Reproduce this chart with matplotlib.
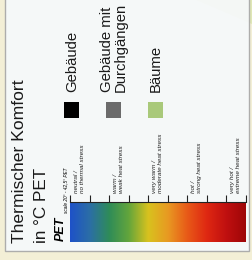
import numpy as np
import matplotlib.pyplot as plt
from matplotlib.colors import LinearSegmentedColormap
from matplotlib.patches import Rectangle, Polygon

# Legende: Thermischer Komfort in PET
title_lines   = ["Thermischer Komfort", "in °C PET"]
legend_labels = ["Gebäude", "Gebäude mit\nDurchgängen", "Bäume"]
legend_colors = ["#000000", "#6b6b6b", "#a9c97a"]

pet_ticks  = [20, 22.5, 25, 27.5, 30, 32.5, 35, 37.5, 40, 42.5]
pet_labels = ["neutral /\nno thermal stress",
              "warm /\nweak heat stress",
              "very warm /\nmoderate heat stress",
              "hot /\nstrong heat stress",
              "very hot /\nextreme heat stress"]
pet_colors = ["#1e52c8", "#2b6ea6", "#2f8c58", "#63a53c", "#d8c21e",
              "#e89a22", "#e85a18", "#df2812", "#c01010", "#9e0608"]

fam = ["Liberation Sans", "DejaVu Sans"]

fig = plt.figure(figsize=(2.52, 2.60), dpi=100)
fig.patch.set_facecolor("#f3efd6")
ax = fig.add_axes([0, 0, 1, 1])
ax.set_xlim(0, 252)
ax.set_ylim(260, 0)
ax.axis("off")

# Kartenhintergrund + Panel
ax.add_patch(Polygon([(196, 0), (252, 0), (252, 24)], closed=True,
                     facecolor="#e0e7b6", edgecolor="none"))
ax.add_patch(Rectangle((5, -5), 244, 256, facecolor="#f6f9fb", alpha=0.93,
                       edgecolor="#a8a8a8", lw=1.0))

# Titel
ax.text(24, 243, title_lines[0], rotation=90, rotation_mode="anchor",
        ha="left", va="baseline", fontsize=12.6, family=fam, color="#1a1a1a")
ax.text(46, 243, title_lines[1], rotation=90, rotation_mode="anchor",
        ha="left", va="baseline", fontsize=12.3, family=fam, color="#1a1a1a")
ax.text(64, 241, "PET", rotation=90, rotation_mode="anchor", ha="left",
        va="baseline", fontsize=9, family=fam, weight="bold", style="italic")
ax.text(67, 213, "scale 20° - 42,5° PET", rotation=90, rotation_mode="anchor",
        ha="left", va="baseline", fontsize=3.4, family=fam, style="italic")

# Legende Gebaeude / Baeume
for i, (lab, col) in enumerate(zip(legend_labels, legend_colors)):
    x0 = 64 + 42 * i
    ax.add_patch(Rectangle((x0, 102), 15, 16, facecolor=col, edgecolor="none"))
    ax.text(x0 + 8, 92, lab, rotation=90, rotation_mode="anchor",
            ha="left", va="center", fontsize=10.7, family=fam,
            linespacing=0.95, color="#1a1a1a")

# Farbskala
cax = fig.add_axes([70 / 252, 18 / 260, 175.5 / 252, 40 / 260])
cmap = LinearSegmentedColormap.from_list("pet", pet_colors)
grad = np.linspace(pet_ticks[0], pet_ticks[-1], 256)[None, :]
cax.imshow(grad, cmap=cmap, aspect="auto",
           extent=[pet_ticks[0], pet_ticks[-1], 0, 1])
cax.set_xlim(pet_ticks[0], pet_ticks[-1])
cax.set_ylim(0, 1)
cax.set_yticks([])
cax.set_xticks(pet_ticks)
cax.set_xticklabels([])
cax.xaxis.set_ticks_position("top")
cax.tick_params(axis="x", direction="out", length=5, width=0.8, color="#222222")
for s in ["left", "right", "bottom"]:
    cax.spines[s].set_visible(False)
cax.spines["top"].set_linewidth(0.8)
cax.spines["top"].set_color("#222222")

trans = cax.get_xaxis_transform()
for i, lab in enumerate(pet_labels):
    xm = (pet_ticks[2 * i] + pet_ticks[2 * i + 1]) / 2
    ax.text(xm, 1.22, lab, transform=trans, rotation=90, rotation_mode="anchor",
            ha="left", va="center", fontsize=4.6, family=fam,
            style="italic", linespacing=1.25, color="#222222")

fig.savefig("out.png", dpi=100, facecolor=fig.get_facecolor())
